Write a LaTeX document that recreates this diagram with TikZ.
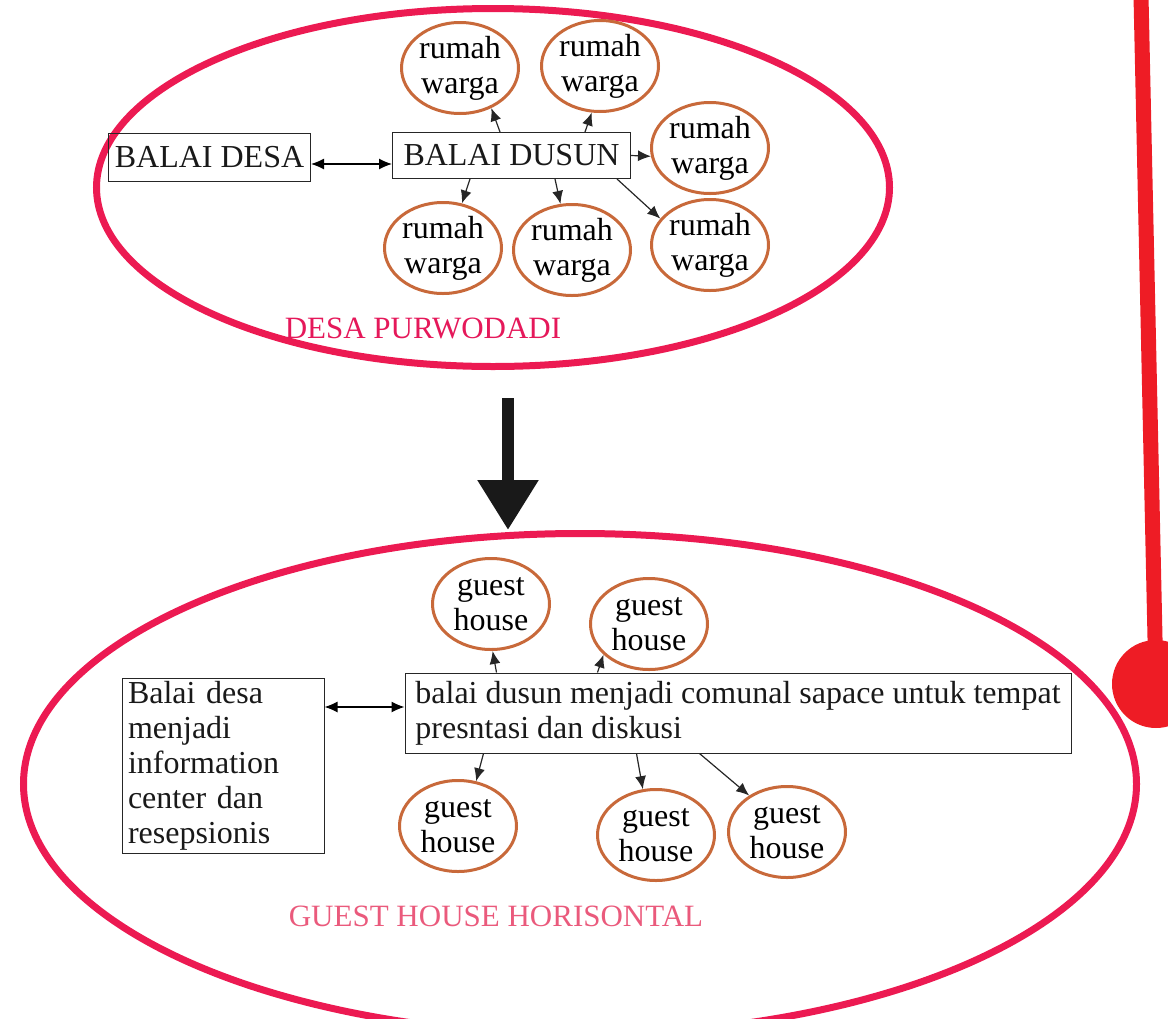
\documentclass[tikz,border=0pt]{standalone}
\usepackage{fontspec}
\setmainfont{Liberation Serif}
\usetikzlibrary{shapes.geometric,arrows.meta,positioning}
\definecolor{ringred}{HTML}{EC1A52}
\definecolor{houseorange}{HTML}{C8693A}
\definecolor{titlepink}{HTML}{E5185A}
\definecolor{lightpink}{HTML}{EA5A7C}
\definecolor{pinred}{HTML}{EE1C25}
\begin{document}
\begin{tikzpicture}[x=1pt, y=-1pt,
  >={Latex[length=13pt,width=11pt]},
  font=\fontsize{32}{35}\selectfont,
  village/.style = {draw=ringred, line width=7pt, ellipse, inner sep=0pt},
  house/.style   = {draw=houseorange, line width=3pt, ellipse, align=center, inner sep=0pt, minimum width=117pt, minimum height=91pt},
  hall/.style    = {draw=black!85, line width=1pt, rectangle, inner sep=0pt, text=black!90},
  caption/.style = {font=\fontsize{31}{35}\selectfont},
  link/.style    = {->, line width=1.2pt, black!85}]

	\useasboundingbox (0,0) rectangle (1168,1018);

	% red pin on the right side
	\node[circle, fill=pinred, minimum size=88pt, inner sep=0pt] (pin) at (1156,684) {};
	\coordinate (pintop) at (1141,-4);
	\draw[pinred, line width=15pt] (pintop) -- (pin.center);

	% the village as it is now
	\node[village, minimum width=793pt, minimum height=358pt] (desa) at (493,187.5) {};
	\node[hall, minimum width=202pt, minimum height=48pt] (bdesa) at (209.5,157.5) {BALAI DESA};
	\node[hall, minimum width=238pt, minimum height=46pt] (bdusun) at (511.5,155.5) {BALAI DUSUN};
	\node[caption, text=titlepink] (desaname) at (423,328) {DESA PURWODADI};

	\begin{scope}[every node/.style={house}]
	\foreach \name/\x/\y in {r1/460/68, r2/600/66, r3/710/148, r4/443/248, r5/572/250, r6/710/245}
	  \node (\name) at (\x,\y) {rumah\\warga};
	\end{scope}

	% lines from the balai dusun to every house
	\draw[<->, line width=1.2pt] ([yshift=-6.5pt]bdesa.east) -- ([yshift=-6.5pt]bdesa.east -| bdusun.west);
	\foreach \side/\shift/\target in {north/-11.5/r1.-52, north/73.5/r2.-100, south/-41.5/r4.67, south/43.5/r5.104, south/105.5/r6.152}
	  \draw[link] ([xshift=\shift pt]bdusun.\side) -- (\target);
	\draw[link] (bdusun.east) -- (r3.188);

	% the guest house village
	\node[village, minimum width=1113pt, minimum height=501pt] (gh) at (580,784) {};
	\node[hall, text width=190pt, inner xsep=6pt, align=left, minimum height=175pt] (bdesa2) at (223,765.5)
	  {Balai desa\\ menjadi\\ information\\ center dan\\ resepsionis};
	\node[hall, inner xsep=6pt, align=left, minimum width=666pt, minimum height=80pt] (bdusun2) at (738,713)
	  {balai dusun menjadi comunal sapace untuk tempat\\ presntasi dan diskusi};
	\node[caption, text=lightpink] (ghname) at (496,916) {GUEST HOUSE HORISONTAL};

	\begin{scope}[every node/.style={house}]
	\foreach \name/\x/\y in {g1/491/604, g2/649/624, g3/458/826, g4/656/835, g5/787/832}
	  \node (\name) at (\x,\y) {guest\\house};
	\end{scope}

	\draw[<->, line width=1.2pt] ([yshift=6pt]bdusun2.west -| bdesa2.east) -- ([yshift=6pt]bdusun2.west);
	\foreach \side/\shift/\target in {north west/92/g1.-88, north west/193/g2.-146, south west/79/g3.68, south west/232/g4.106, south west/295/g5.136}
	  \draw[link] ([xshift=\shift pt]bdusun2.\side) -- (\target);

	% from the old village to the new one
	\coordinate (flowtail) at (508,398);
	\draw[line width=12pt, black!90, -{Triangle[length=50pt,width=58pt]}] (flowtail) -- (flowtail |- gh.north);
\end{tikzpicture}
\end{document}
